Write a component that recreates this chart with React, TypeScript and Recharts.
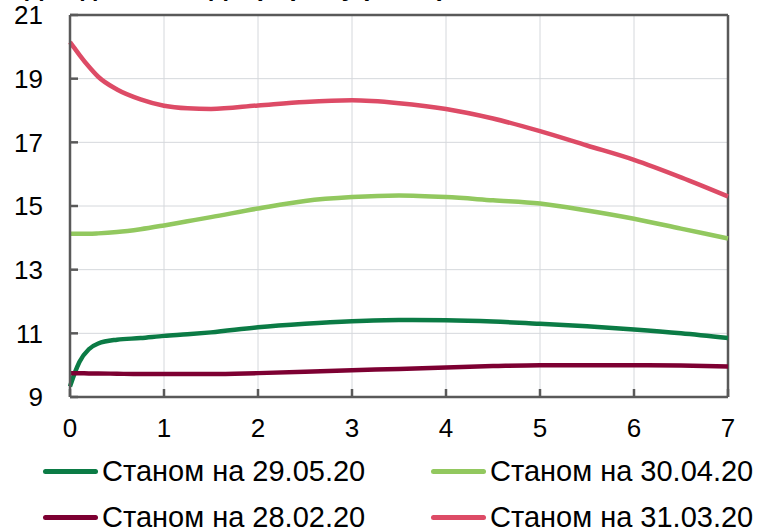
import { LineChart, Line, XAxis, YAxis, CartesianGrid, Legend, ReferenceLine } from "recharts";

// Term to maturity, years
const terms = [0, 0.05, 0.1, 0.2, 0.3, 0.5, 0.75, 1, 1.25, 1.5, 2, 2.5, 3, 3.5, 4, 4.5, 5, 5.5, 6, 6.5, 7];

// Yield curves, % per annum
const may29 = [9.33, 9.75, 10.1, 10.5, 10.68, 10.8, 10.85, 10.92, 10.97, 11.03, 11.19, 11.3, 11.38, 11.42, 11.41, 11.37, 11.3, 11.22, 11.12, 11.0, 10.85];
const apr30 = [14.13, 14.13, 14.13, 14.13, 14.14, 14.18, 14.27, 14.39, 14.52, 14.65, 14.92, 15.16, 15.28, 15.33, 15.28, 15.18, 15.08, 14.86, 14.6, 14.29, 13.98];
const feb28 = [9.75, 9.75, 9.75, 9.74, 9.74, 9.73, 9.72, 9.72, 9.72, 9.72, 9.75, 9.79, 9.84, 9.88, 9.93, 9.97, 10.0, 10.0, 10.0, 9.99, 9.96];
const mar31 = [20.15, 19.95, 19.75, 19.38, 19.06, 18.66, 18.35, 18.15, 18.07, 18.05, 18.16, 18.27, 18.32, 18.23, 18.05, 17.75, 17.35, 16.9, 16.45, 15.9, 15.3];

const xTicks = [0, 1, 2, 3, 4, 5, 6, 7];
const yTicks = [9, 11, 13, 15, 17, 19, 21];

const series = [
    { key: "may29", name: "Станом на 29.05.20", color: "#0b7b45" },
    { key: "apr30", name: "Станом на 30.04.20", color: "#92c85f" },
    { key: "feb28", name: "Станом на 28.02.20", color: "#7d0032" },
    { key: "mar31", name: "Станом на 31.03.20", color: "#dd4b66" },
];

const chartData = terms.map((t, i) => ({
    term: t,
    may29: may29[i],
    apr30: apr30[i],
    feb28: feb28[i],
    mar31: mar31[i],
}));

const FONT = "'Liberation Sans', Arial, sans-serif";
const AXIS = "#595959";

function CurveLegend() {
    return (
        <div style={{ position: "relative", width: 758, height: 90, fontFamily: FONT }}>
            {series.map((s, i) => (
                <div
                    key={s.key}
                    style={{
                        position: "absolute",
                        left: i % 2 === 0 ? 43 : 431,
                        top: i < 2 ? 9 : 55,
                        display: "flex",
                        alignItems: "center",
                        whiteSpace: "nowrap",
                    }}
                >
                    <span style={{ display: "inline-block", width: 55, height: 5, borderRadius: 3, background: s.color }} />
                    <span style={{ marginLeft: 4, fontSize: 29, color: "#000", lineHeight: "34px" }}>{s.name}</span>
                </div>
            ))}
        </div>
    );
}

export default function App() {
    return (
        <div style={{ position: "absolute", left: 0, top: 0, width: 758, height: 531, background: "#fff", overflow: "hidden" }}>
            <div
                style={{
                    position: "absolute",
                    left: 25,
                    top: -28,
                    width: 430,
                    textAlign: "center",
                    fontFamily: FONT,
                    fontWeight: "bold",
                    fontSize: 26,
                    lineHeight: "30px",
                    whiteSpace: "nowrap",
                }}
            >
                Дохідність ОВДП (строк у роках), %
            </div>
            <LineChart width={758} height={531} data={chartData} margin={{ top: 15, right: 30, left: 0, bottom: 0 }}>
                <CartesianGrid stroke="#d5d8dc" strokeWidth={1} />
                <XAxis
                    dataKey="term"
                    type="number"
                    domain={[0, 7]}
                    ticks={xTicks}
                    interval={0}
                    height={44}
                    axisLine={{ stroke: AXIS, strokeWidth: 2.5 }}
                    tickLine={{ stroke: AXIS, strokeWidth: 2.5 }}
                    tickSize={-8}
                    tickMargin={30}
                    tick={{ fill: "#000", fontSize: 26, fontFamily: FONT }}
                />
                <YAxis
                    type="number"
                    domain={[9, 21]}
                    ticks={yTicks}
                    interval={0}
                    width={70}
                    axisLine={{ stroke: AXIS, strokeWidth: 2.5 }}
                    tickLine={{ stroke: AXIS, strokeWidth: 2.5 }}
                    tickSize={-8}
                    tickMargin={35}
                    tick={{ fill: "#000", fontSize: 26, fontFamily: FONT }}
                />
                <ReferenceLine y={21} stroke={AXIS} strokeWidth={2.5} />
                <ReferenceLine x={7} stroke={AXIS} strokeWidth={2.5} />
                <Legend
                    content={() => <CurveLegend />}
                    wrapperStyle={{ position: "absolute", left: 0, top: 445, width: 758, height: 90 }}
                />
                {series.map((s) => (
                    <Line
                        key={s.key}
                        type="monotone"
                        dataKey={s.key}
                        name={s.name}
                        stroke={s.color}
                        strokeWidth={4.5}
                        dot={false}
                        activeDot={false}
                        isAnimationActive={false}
                    />
                ))}
            </LineChart>
        </div>
    );
}
